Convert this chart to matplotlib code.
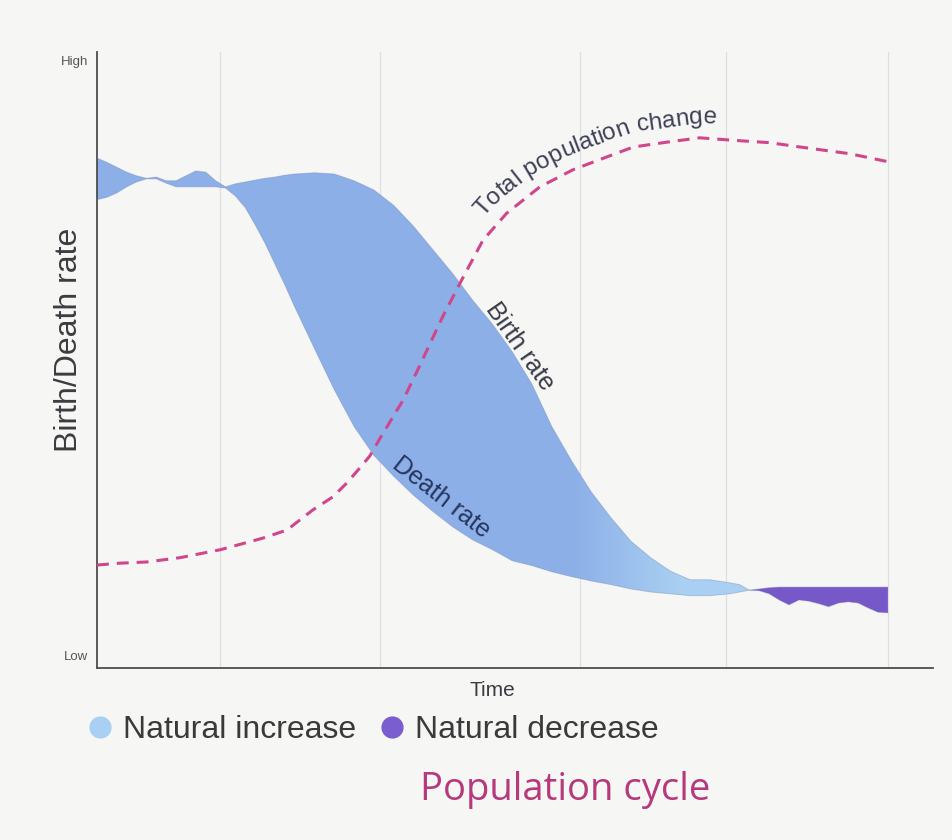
import numpy as np
import matplotlib
matplotlib.use("Agg")
import matplotlib.pyplot as plt
from matplotlib.colors import LinearSegmentedColormap
from matplotlib.path import Path
from matplotlib.lines import Line2D
from matplotlib.transforms import IdentityTransform
from matplotlib.font_manager import FontProperties, findfont, get_font

# ---------------- data ----------------
time = [0, 1.25, 2.5, 3.75, 5, 6.25, 7.5, 8.75, 10, 11.25, 12.5, 13.75, 15,
        16.25, 17.5, 18.75, 20, 21.25, 22.5, 23.75, 25, 27.5, 30, 32.5, 35,
        37.5, 40, 42.5, 45, 47.5, 50, 52.5, 55, 57.5, 60, 62.5, 65, 67.5, 70,
        72.5, 75, 77.5, 80, 81.25, 82.5, 83.75, 85, 86.25, 87.5, 88.75, 90,
        91.25, 92.5, 93.75, 95, 96.25, 97.5, 98.75, 100]
birth_rate = [82.7, 82.0, 81.2, 80.4, 79.8, 79.4, 79.6, 79.0, 79.0, 79.8, 80.6,
              80.4, 79.0, 78.0, 78.5, 78.8, 79.1, 79.4, 79.6, 79.9, 80.1, 80.3,
              80.1, 79.0, 77.5, 75.0, 71.6, 67.7, 63.8, 59.5, 55.6, 51.1, 45.8,
              38.9, 33.3, 28.2, 24.0, 20.2, 17.5, 15.3, 13.9, 13.9, 13.4, 13.1,
              12.2, 12.1, 11.6, 10.6, 9.8, 10.6, 10.4, 10.0, 9.5, 10.1, 10.3,
              10.1, 9.3, 8.6, 8.5]
death_rate = [75.9, 76.3, 77.0, 78.0, 78.8, 79.3, 79.3, 78.6, 78.0, 78.0, 78.0,
              78.0, 78.0, 77.8, 76.5, 74.6, 71.8, 68.8, 65.4, 62.0, 58.4, 51.6,
              44.9, 38.9, 34.2, 30.8, 27.7, 25.0, 22.5, 20.4, 18.8, 17.0, 16.2,
              15.2, 14.4, 13.7, 13.1, 12.4, 11.9, 11.6, 11.3, 11.3, 11.6, 11.9,
              12.2, 12.4, 12.6, 12.7, 12.7, 12.7, 12.7, 12.7, 12.7, 12.7, 12.7,
              12.7, 12.7, 12.7, 12.7]
pop_time = [0, 2.9, 6.3, 10.5, 15.6, 21.0, 24.0, 27.3, 29.8, 31.6, 33.2, 34.5,
            35.8, 38.7, 40.5, 43.7, 45.9, 48.8, 51.8, 56.0, 60.2, 64.5, 67.8,
            72.1, 76.2, 80.4, 85.1, 88.9, 95.2, 100]
pop_change = [16.3, 16.6, 16.8, 17.5, 18.8, 20.7, 22.0, 25.3, 27.4, 29.7, 32.1,
              34.1, 37.0, 43.2, 48.0, 56.8, 62.3, 69.3, 73.7, 78.0, 80.8, 82.9,
              84.5, 85.3, 86.0, 85.6, 85.2, 84.5, 83.4, 82.1]
stage_bounds = [15.5, 35.8, 61.1, 79.5, 100]
y_labels = ["Low", "High"]
legend_labels = ["Natural increase", "Natural decrease"]

# ---------------- style ----------------
BG = "#f6f7f5"
BLUE_DARK = "#8cafe8"
BLUE_LIGHT = "#a9d0f2"
PURPLE = "#7658c8"
DASH = "#d0468a"
TXT = "#3b3b40"
SANS = ["Liberation Sans", "DejaVu Sans"]
plt.rcParams["font.family"] = SANS

W, H, DPI = 952, 840, 100
fig = plt.figure(figsize=(W / DPI, H / DPI), dpi=DPI, facecolor=BG)
ax = fig.add_axes([97 / W, 1 - 668 / H, (933 - 97) / W, (668 - 52) / H])
ax.set_facecolor(BG)

t = np.array(time)
b = np.array(birth_rate)
d = np.array(death_rate)

# stage gridlines
for xb in stage_bounds:
    ax.axvline(xb, color="#dcdedf", lw=0.9, zorder=1)

# natural increase (gradient fill clipped to the region)
inc = ax.fill_between(t, d, b, where=b >= d, interpolate=True,
                      facecolor="none", edgecolor="none")
inc_path = Path.make_compound_path(*inc.get_paths())
cmap = LinearSegmentedColormap.from_list(
    "inc", [(0, BLUE_DARK), (0.60, BLUE_DARK), (0.74, BLUE_LIGHT), (1, BLUE_LIGHT)])
grad = np.linspace(0, 1, 256).reshape(1, -1)
im = ax.imshow(grad, extent=[0, 100, -0.5, 100], aspect="auto", cmap=cmap,
               origin="lower", interpolation="bilinear", zorder=2)
im.set_clip_path(inc_path, transform=ax.transData)

# natural decrease
ax.fill_between(t, b, d, where=d > b, interpolate=True, facecolor=PURPLE,
                edgecolor="none", zorder=2)

# faint outlines of the two rates
ax.plot(t, b, color="#7386b5", lw=0.7, alpha=0.4, zorder=3)
ax.plot(t, d, color="#7386b5", lw=0.7, alpha=0.4, zorder=3)

# total population change
ax.plot(pop_time, pop_change, color=DASH, lw=2.2, dashes=(3.9, 2.6),
        zorder=4, dash_capstyle="butt")

ax.set_xlim(0, 105.7)
ax.set_ylim(-0.5, 100)
ax.set_xticks([])
ax.set_yticks([])
for s in ["top", "right"]:
    ax.spines[s].set_visible(False)
for s in ["left", "bottom"]:
    ax.spines[s].set_color("#4d4d4d")
    ax.spines[s].set_linewidth(1.3)

# axis texts
fig.text(88 / W, 1 - 62 / H, y_labels[1], ha="right", va="center",
         fontsize=9.5, color="#555555")
fig.text(88 / W, 1 - 657 / H, y_labels[0], ha="right", va="center",
         fontsize=9.5, color="#555555")
fig.text(69 / W, 1 - 340 / H, "Birth/Death rate", rotation=90, ha="center",
         va="center", fontsize=23, color=TXT)
fig.text(492 / W, 1 - 690 / H, "Time", ha="center", va="center",
         fontsize=15, color=TXT)

# labels on the curves
ax.text(53.5, 51.9, "Birth rate", rotation=-55, rotation_mode="anchor",
        ha="center", va="center", fontsize=18, color="#3a3a48", zorder=5)
ax.text(43.5, 27.4, "Death rate", rotation=-38, rotation_mode="anchor",
        ha="center", va="center", fontsize=18, color="#27365f", zorder=5)


def curved_text(xs, ys, text, start_x, offset_px, size, color):
    fp = FontProperties(family=SANS, size=size)
    font = get_font(findfont(fp))
    font.set_size(size, DPI)
    advs = [font.load_char(ord(c)).linearHoriAdvance / 65536.0 for c in text]
    pts = ax.transData.transform(np.column_stack([xs, ys]))
    src = np.asarray(xs, float)
    dense, dsrc = [], []
    for i in range(len(pts) - 1):
        for f in np.linspace(0, 1, 25, endpoint=False):
            dense.append(pts[i] + f * (pts[i + 1] - pts[i]))
            dsrc.append(src[i] + f * (src[i + 1] - src[i]))
    dense.append(pts[-1]); dsrc.append(src[-1])
    dense = np.array(dense); dsrc = np.array(dsrc)
    tang = np.gradient(dense, axis=0)
    k = 41
    ker = np.ones(k) / k
    tx = np.convolve(np.pad(tang[:, 0], k // 2, mode="edge"), ker, mode="valid")
    ty = np.convolve(np.pad(tang[:, 1], k // 2, mode="edge"), ker, mode="valid")
    nrm = np.hypot(tx, ty)
    nx, ny = -ty / nrm, tx / nrm
    off = dense + offset_px * np.column_stack([nx, ny])
    seg = np.hypot(*np.diff(off, axis=0).T)
    arc = np.concatenate([[0], np.cumsum(seg)])
    s0 = np.interp(start_x, dsrc, arc)

    def at(s):
        return np.interp(s, arc, off[:, 0]), np.interp(s, arc, off[:, 1])

    s = s0
    for c, a in zip(text, advs):
        x, y = at(s + a / 2)
        x1, y1 = at(s)
        x2, y2 = at(s + a)
        ang = np.degrees(np.arctan2(y2 - y1, x2 - x1))
        ax.text(x, y, c, transform=IdentityTransform(), rotation=ang,
                rotation_mode="anchor", ha="center", va="baseline",
                fontproperties=fp, color=color, zorder=5)
        s += a


curved_text(pop_time, pop_change, "Total population change", 50.3, 15, 17.5,
            "#3e3e55")

# legend
handles = [Line2D([], [], ls="", marker="o", ms=16, color=BLUE_LIGHT, mec="none"),
           Line2D([], [], ls="", marker="o", ms=16, color="#7a5ed0", mec="none")]
fig.legend(handles, legend_labels, loc="center left",
           bbox_to_anchor=(88 / W, 1 - 730 / H), ncol=2, frameon=False,
           fontsize=23, handlelength=0.75, handletextpad=0.35,
           columnspacing=0.75, borderpad=0, borderaxespad=0,
           labelcolor="#3a3a3a")

fig.text(565 / W, 1 - 790 / H, "Population cycle", ha="center", va="center",
         fontsize=27.5, color="#b5397b", family=["Open Sans", "DejaVu Sans"])

fig.savefig("out.png", dpi=DPI, facecolor=BG)
